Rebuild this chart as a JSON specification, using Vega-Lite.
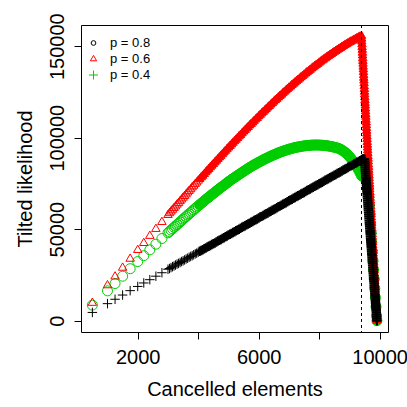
{
  "$schema": "https://vega.github.io/schema/vega-lite/v6.json",
  "width": 307,
  "height": 307,
  "autosize": {"type": "none"},
  "padding": {"left": 81, "top": 25, "right": 19, "bottom": 75},
  "background": "#ffffff",
  "config": {
    "view": {"stroke": "#000000", "strokeWidth": 1},
    "font": "Liberation Sans",
    "axis": {"grid": false, "domain": false, "tickColor": "#000000", "tickSize": 7, "labelColor": "#000000", "titleColor": "#000000", "labelFont": "Liberation Sans", "titleFont": "Liberation Sans", "labelFontSize": 20, "titleFontSize": 20, "titleFontWeight": "normal"}
  },
  "datasets": {
    "curves": [
      {"p":"p = 0.4","x":500,"y":8500},{"p":"p = 0.4","x":1000,"y":16300},{"p":"p = 0.4","x":1250,"y":20300},{"p":"p = 0.4","x":1500,"y":24300},{"p":"p = 0.4","x":1750,"y":28400},{"p":"p = 0.4","x":2000,"y":32300},{"p":"p = 0.4","x":2200,"y":35500},{"p":"p = 0.4","x":2400,"y":38700},{"p":"p = 0.4","x":2600,"y":41800},{"p":"p = 0.4","x":2800,"y":44900},{"p":"p = 0.4","x":3000,"y":48000},
      {"p":"p = 0.4","x":3050,"y":48700},{"p":"p = 0.4","x":3100,"y":49500},{"p":"p = 0.4","x":3150,"y":50200},{"p":"p = 0.4","x":3200,"y":51000},{"p":"p = 0.4","x":3250,"y":51700},{"p":"p = 0.4","x":3300,"y":52500},{"p":"p = 0.4","x":3350,"y":53200},{"p":"p = 0.4","x":3400,"y":54000},{"p":"p = 0.4","x":3450,"y":54700},{"p":"p = 0.4","x":3500,"y":55500},
      {"p":"p = 0.4","x":3550,"y":56200},{"p":"p = 0.4","x":3600,"y":56900},{"p":"p = 0.4","x":3650,"y":57700},{"p":"p = 0.4","x":3700,"y":58400},{"p":"p = 0.4","x":3750,"y":59100},{"p":"p = 0.4","x":3800,"y":59800},{"p":"p = 0.4","x":3850,"y":60600},{"p":"p = 0.4","x":3900,"y":61300},{"p":"p = 0.4","x":3950,"y":62000},{"p":"p = 0.4","x":4000,"y":62700},
      {"p":"p = 0.4","x":4050,"y":63400},{"p":"p = 0.4","x":4100,"y":64100},{"p":"p = 0.4","x":4150,"y":64800},{"p":"p = 0.4","x":4200,"y":65500},{"p":"p = 0.4","x":4250,"y":66200},{"p":"p = 0.4","x":4300,"y":66900},{"p":"p = 0.4","x":4350,"y":67500},{"p":"p = 0.4","x":4400,"y":68200},{"p":"p = 0.4","x":4450,"y":68900},{"p":"p = 0.4","x":4500,"y":69500},
      {"p":"p = 0.4","x":4550,"y":70200},{"p":"p = 0.4","x":4600,"y":70800},{"p":"p = 0.4","x":4650,"y":71500},{"p":"p = 0.4","x":4700,"y":72100},{"p":"p = 0.4","x":4750,"y":72800},{"p":"p = 0.4","x":4800,"y":73400},{"p":"p = 0.4","x":4850,"y":74000},{"p":"p = 0.4","x":4900,"y":74600},{"p":"p = 0.4","x":4950,"y":75300},{"p":"p = 0.4","x":5000,"y":75900},
      {"p":"p = 0.4","x":5050,"y":76500},{"p":"p = 0.4","x":5100,"y":77100},{"p":"p = 0.4","x":5150,"y":77700},{"p":"p = 0.4","x":5200,"y":78200},{"p":"p = 0.4","x":5250,"y":78800},{"p":"p = 0.4","x":5300,"y":79400},{"p":"p = 0.4","x":5350,"y":79900},{"p":"p = 0.4","x":5400,"y":80500},{"p":"p = 0.4","x":5450,"y":81000},{"p":"p = 0.4","x":5500,"y":81600},
      {"p":"p = 0.4","x":5550,"y":82100},{"p":"p = 0.4","x":5600,"y":82600},{"p":"p = 0.4","x":5650,"y":83200},{"p":"p = 0.4","x":5700,"y":83700},{"p":"p = 0.4","x":5750,"y":84200},{"p":"p = 0.4","x":5800,"y":84700},{"p":"p = 0.4","x":5850,"y":85200},{"p":"p = 0.4","x":5900,"y":85600},{"p":"p = 0.4","x":5950,"y":86100},{"p":"p = 0.4","x":6000,"y":86600},
      {"p":"p = 0.4","x":6050,"y":87000},{"p":"p = 0.4","x":6100,"y":87400},{"p":"p = 0.4","x":6150,"y":87900},{"p":"p = 0.4","x":6200,"y":88300},{"p":"p = 0.4","x":6250,"y":88700},{"p":"p = 0.4","x":6300,"y":89100},{"p":"p = 0.4","x":6350,"y":89500},{"p":"p = 0.4","x":6400,"y":89900},{"p":"p = 0.4","x":6450,"y":90300},{"p":"p = 0.4","x":6500,"y":90600},
      {"p":"p = 0.4","x":6550,"y":91000},{"p":"p = 0.4","x":6600,"y":91300},{"p":"p = 0.4","x":6650,"y":91700},{"p":"p = 0.4","x":6700,"y":92000},{"p":"p = 0.4","x":6750,"y":92300},{"p":"p = 0.4","x":6800,"y":92600},{"p":"p = 0.4","x":6850,"y":92900},{"p":"p = 0.4","x":6900,"y":93200},{"p":"p = 0.4","x":6950,"y":93400},{"p":"p = 0.4","x":7000,"y":93700},
      {"p":"p = 0.4","x":7050,"y":93900},{"p":"p = 0.4","x":7100,"y":94100},{"p":"p = 0.4","x":7150,"y":94400},{"p":"p = 0.4","x":7200,"y":94600},{"p":"p = 0.4","x":7250,"y":94800},{"p":"p = 0.4","x":7300,"y":94900},{"p":"p = 0.4","x":7350,"y":95100},{"p":"p = 0.4","x":7400,"y":95200},{"p":"p = 0.4","x":7450,"y":95400},{"p":"p = 0.4","x":7500,"y":95500},
      {"p":"p = 0.4","x":7550,"y":95600},{"p":"p = 0.4","x":7600,"y":95700},{"p":"p = 0.4","x":7650,"y":95800},{"p":"p = 0.4","x":7700,"y":95900},{"p":"p = 0.4","x":7750,"y":95900},{"p":"p = 0.4","x":7800,"y":96000},{"p":"p = 0.4","x":7850,"y":96000},{"p":"p = 0.4","x":7900,"y":96000},{"p":"p = 0.4","x":7950,"y":96000},{"p":"p = 0.4","x":8000,"y":96000},
      {"p":"p = 0.4","x":8050,"y":95900},{"p":"p = 0.4","x":8100,"y":95900},{"p":"p = 0.4","x":8150,"y":95800},{"p":"p = 0.4","x":8200,"y":95700},{"p":"p = 0.4","x":8250,"y":95600},{"p":"p = 0.4","x":8300,"y":95500},{"p":"p = 0.4","x":8350,"y":95300},{"p":"p = 0.4","x":8400,"y":95200},{"p":"p = 0.4","x":8450,"y":95000},{"p":"p = 0.4","x":8500,"y":94800},
      {"p":"p = 0.4","x":8550,"y":94600},{"p":"p = 0.4","x":8600,"y":94400},{"p":"p = 0.4","x":8650,"y":94100},{"p":"p = 0.4","x":8700,"y":93700},{"p":"p = 0.4","x":8750,"y":93300},{"p":"p = 0.4","x":8800,"y":92700},{"p":"p = 0.4","x":8850,"y":92100},{"p":"p = 0.4","x":8900,"y":91400},{"p":"p = 0.4","x":8950,"y":90600},{"p":"p = 0.4","x":9000,"y":89700},
      {"p":"p = 0.4","x":9050,"y":88700},{"p":"p = 0.4","x":9100,"y":87600},{"p":"p = 0.4","x":9150,"y":86400},{"p":"p = 0.4","x":9200,"y":85200},{"p":"p = 0.4","x":9250,"y":83800},{"p":"p = 0.4","x":9300,"y":82400},{"p":"p = 0.4","x":9350,"y":80800},{"p":"p = 0.4","x":9400,"y":79200},{"p":"p = 0.4","x":9450,"y":78700},{"p":"p = 0.4","x":9500,"y":78400},
      {"p":"p = 0.4","x":9550,"y":78200},{"p":"p = 0.4","x":9600,"y":78100},{"p":"p = 0.4","x":9620,"y":73100},{"p":"p = 0.4","x":9640,"y":68100},{"p":"p = 0.4","x":9660,"y":63100},{"p":"p = 0.4","x":9680,"y":58000},{"p":"p = 0.4","x":9700,"y":53000},{"p":"p = 0.4","x":9720,"y":47900},{"p":"p = 0.4","x":9740,"y":42900},{"p":"p = 0.4","x":9760,"y":37800},
      {"p":"p = 0.4","x":9780,"y":32800},{"p":"p = 0.4","x":9800,"y":27700},{"p":"p = 0.4","x":9820,"y":22700},{"p":"p = 0.4","x":9840,"y":17700},{"p":"p = 0.4","x":9860,"y":12600},{"p":"p = 0.4","x":9880,"y":7600},{"p":"p = 0.4","x":9900,"y":2500},{"p":"p = 0.4","x":9910,"y":0},

      {"p":"p = 0.6","x":500,"y":9700},{"p":"p = 0.6","x":1000,"y":19300},{"p":"p = 0.6","x":1250,"y":24100},{"p":"p = 0.6","x":1500,"y":28900},{"p":"p = 0.6","x":1750,"y":33800},{"p":"p = 0.6","x":2000,"y":38600},{"p":"p = 0.6","x":2200,"y":42400},{"p":"p = 0.6","x":2400,"y":46300},{"p":"p = 0.6","x":2600,"y":50100},{"p":"p = 0.6","x":2800,"y":53900},{"p":"p = 0.6","x":3000,"y":57700},
      {"p":"p = 0.6","x":3050,"y":58700},{"p":"p = 0.6","x":3100,"y":59600},{"p":"p = 0.6","x":3150,"y":60600},{"p":"p = 0.6","x":3200,"y":61500},{"p":"p = 0.6","x":3250,"y":62400},{"p":"p = 0.6","x":3300,"y":63400},{"p":"p = 0.6","x":3350,"y":64300},{"p":"p = 0.6","x":3400,"y":65300},{"p":"p = 0.6","x":3450,"y":66200},{"p":"p = 0.6","x":3500,"y":67200},
      {"p":"p = 0.6","x":3550,"y":68100},{"p":"p = 0.6","x":3600,"y":69000},{"p":"p = 0.6","x":3650,"y":70000},{"p":"p = 0.6","x":3700,"y":70900},{"p":"p = 0.6","x":3750,"y":71800},{"p":"p = 0.6","x":3800,"y":72800},{"p":"p = 0.6","x":3850,"y":73700},{"p":"p = 0.6","x":3900,"y":74600},{"p":"p = 0.6","x":3950,"y":75500},{"p":"p = 0.6","x":4000,"y":76500},
      {"p":"p = 0.6","x":4050,"y":77400},{"p":"p = 0.6","x":4100,"y":78300},{"p":"p = 0.6","x":4150,"y":79200},{"p":"p = 0.6","x":4200,"y":80100},{"p":"p = 0.6","x":4250,"y":81100},{"p":"p = 0.6","x":4300,"y":82000},{"p":"p = 0.6","x":4350,"y":82900},{"p":"p = 0.6","x":4400,"y":83800},{"p":"p = 0.6","x":4450,"y":84700},{"p":"p = 0.6","x":4500,"y":85600},
      {"p":"p = 0.6","x":4550,"y":86500},{"p":"p = 0.6","x":4600,"y":87400},{"p":"p = 0.6","x":4650,"y":88300},{"p":"p = 0.6","x":4700,"y":89200},{"p":"p = 0.6","x":4750,"y":90100},{"p":"p = 0.6","x":4800,"y":91000},{"p":"p = 0.6","x":4850,"y":91900},{"p":"p = 0.6","x":4900,"y":92800},{"p":"p = 0.6","x":4950,"y":93700},{"p":"p = 0.6","x":5000,"y":94600},
      {"p":"p = 0.6","x":5050,"y":95400},{"p":"p = 0.6","x":5100,"y":96300},{"p":"p = 0.6","x":5150,"y":97200},{"p":"p = 0.6","x":5200,"y":98100},{"p":"p = 0.6","x":5250,"y":98900},{"p":"p = 0.6","x":5300,"y":99800},{"p":"p = 0.6","x":5350,"y":100700},{"p":"p = 0.6","x":5400,"y":101500},{"p":"p = 0.6","x":5450,"y":102400},{"p":"p = 0.6","x":5500,"y":103300},
      {"p":"p = 0.6","x":5550,"y":104100},{"p":"p = 0.6","x":5600,"y":105000},{"p":"p = 0.6","x":5650,"y":105800},{"p":"p = 0.6","x":5700,"y":106700},{"p":"p = 0.6","x":5750,"y":107500},{"p":"p = 0.6","x":5800,"y":108300},{"p":"p = 0.6","x":5850,"y":109200},{"p":"p = 0.6","x":5900,"y":110000},{"p":"p = 0.6","x":5950,"y":110800},{"p":"p = 0.6","x":6000,"y":111700},
      {"p":"p = 0.6","x":6050,"y":112500},{"p":"p = 0.6","x":6100,"y":113300},{"p":"p = 0.6","x":6150,"y":114100},{"p":"p = 0.6","x":6200,"y":114900},{"p":"p = 0.6","x":6250,"y":115700},{"p":"p = 0.6","x":6300,"y":116500},{"p":"p = 0.6","x":6350,"y":117300},{"p":"p = 0.6","x":6400,"y":118100},{"p":"p = 0.6","x":6450,"y":118900},{"p":"p = 0.6","x":6500,"y":119700},
      {"p":"p = 0.6","x":6550,"y":120500},{"p":"p = 0.6","x":6600,"y":121200},{"p":"p = 0.6","x":6650,"y":122000},{"p":"p = 0.6","x":6700,"y":122800},{"p":"p = 0.6","x":6750,"y":123500},{"p":"p = 0.6","x":6800,"y":124300},{"p":"p = 0.6","x":6850,"y":125100},{"p":"p = 0.6","x":6900,"y":125800},{"p":"p = 0.6","x":6950,"y":126600},{"p":"p = 0.6","x":7000,"y":127300},
      {"p":"p = 0.6","x":7050,"y":128000},{"p":"p = 0.6","x":7100,"y":128800},{"p":"p = 0.6","x":7150,"y":129500},{"p":"p = 0.6","x":7200,"y":130200},{"p":"p = 0.6","x":7250,"y":130900},{"p":"p = 0.6","x":7300,"y":131600},{"p":"p = 0.6","x":7350,"y":132300},{"p":"p = 0.6","x":7400,"y":133000},{"p":"p = 0.6","x":7450,"y":133700},{"p":"p = 0.6","x":7500,"y":134400},
      {"p":"p = 0.6","x":7550,"y":135100},{"p":"p = 0.6","x":7600,"y":135800},{"p":"p = 0.6","x":7650,"y":136400},{"p":"p = 0.6","x":7700,"y":137100},{"p":"p = 0.6","x":7750,"y":137800},{"p":"p = 0.6","x":7800,"y":138400},{"p":"p = 0.6","x":7850,"y":139100},{"p":"p = 0.6","x":7900,"y":139700},{"p":"p = 0.6","x":7950,"y":140300},{"p":"p = 0.6","x":8000,"y":141000},
      {"p":"p = 0.6","x":8050,"y":141600},{"p":"p = 0.6","x":8100,"y":142200},{"p":"p = 0.6","x":8150,"y":142800},{"p":"p = 0.6","x":8200,"y":143400},{"p":"p = 0.6","x":8250,"y":144000},{"p":"p = 0.6","x":8300,"y":144600},{"p":"p = 0.6","x":8350,"y":145200},{"p":"p = 0.6","x":8400,"y":145700},{"p":"p = 0.6","x":8450,"y":146300},{"p":"p = 0.6","x":8500,"y":146900},
      {"p":"p = 0.6","x":8550,"y":147400},{"p":"p = 0.6","x":8600,"y":148000},{"p":"p = 0.6","x":8650,"y":148500},{"p":"p = 0.6","x":8700,"y":149000},{"p":"p = 0.6","x":8750,"y":149600},{"p":"p = 0.6","x":8800,"y":150100},{"p":"p = 0.6","x":8850,"y":150600},{"p":"p = 0.6","x":8900,"y":151100},{"p":"p = 0.6","x":8950,"y":151600},{"p":"p = 0.6","x":9000,"y":152100},
      {"p":"p = 0.6","x":9050,"y":152500},{"p":"p = 0.6","x":9100,"y":153000},{"p":"p = 0.6","x":9150,"y":153500},{"p":"p = 0.6","x":9200,"y":153900},{"p":"p = 0.6","x":9250,"y":154400},{"p":"p = 0.6","x":9300,"y":154800},{"p":"p = 0.6","x":9350,"y":155200},{"p":"p = 0.6","x":9400,"y":155600},
      {"p":"p = 0.6","x":9405,"y":154100},{"p":"p = 0.6","x":9410,"y":152500},{"p":"p = 0.6","x":9415,"y":151000},{"p":"p = 0.6","x":9420,"y":149500},{"p":"p = 0.6","x":9425,"y":148000},{"p":"p = 0.6","x":9430,"y":146400},{"p":"p = 0.6","x":9435,"y":144900},{"p":"p = 0.6","x":9440,"y":143400},{"p":"p = 0.6","x":9445,"y":141900},{"p":"p = 0.6","x":9450,"y":140400},
      {"p":"p = 0.6","x":9455,"y":138800},{"p":"p = 0.6","x":9460,"y":137300},{"p":"p = 0.6","x":9465,"y":135800},{"p":"p = 0.6","x":9470,"y":134200},{"p":"p = 0.6","x":9475,"y":132700},{"p":"p = 0.6","x":9480,"y":131200},{"p":"p = 0.6","x":9485,"y":129700},{"p":"p = 0.6","x":9490,"y":128100},{"p":"p = 0.6","x":9495,"y":126600},{"p":"p = 0.6","x":9500,"y":125100},
      {"p":"p = 0.6","x":9505,"y":123600},{"p":"p = 0.6","x":9510,"y":122000},{"p":"p = 0.6","x":9515,"y":120500},{"p":"p = 0.6","x":9520,"y":119000},{"p":"p = 0.6","x":9525,"y":117500},{"p":"p = 0.6","x":9530,"y":115900},{"p":"p = 0.6","x":9535,"y":114400},{"p":"p = 0.6","x":9540,"y":112900},{"p":"p = 0.6","x":9545,"y":111400},{"p":"p = 0.6","x":9550,"y":109800},
      {"p":"p = 0.6","x":9555,"y":108300},{"p":"p = 0.6","x":9560,"y":106800},{"p":"p = 0.6","x":9565,"y":105300},{"p":"p = 0.6","x":9570,"y":103700},{"p":"p = 0.6","x":9575,"y":102200},{"p":"p = 0.6","x":9580,"y":100700},{"p":"p = 0.6","x":9585,"y":99200},{"p":"p = 0.6","x":9590,"y":97600},{"p":"p = 0.6","x":9595,"y":96100},{"p":"p = 0.6","x":9600,"y":94600},
      {"p":"p = 0.6","x":9605,"y":93100},{"p":"p = 0.6","x":9610,"y":91500},{"p":"p = 0.6","x":9615,"y":90000},{"p":"p = 0.6","x":9620,"y":88500},{"p":"p = 0.6","x":9625,"y":87000},{"p":"p = 0.6","x":9630,"y":85400},{"p":"p = 0.6","x":9635,"y":83900},{"p":"p = 0.6","x":9640,"y":82400},{"p":"p = 0.6","x":9645,"y":80900},{"p":"p = 0.6","x":9650,"y":79300},
      {"p":"p = 0.6","x":9655,"y":77800},{"p":"p = 0.6","x":9660,"y":76300},{"p":"p = 0.6","x":9665,"y":74800},{"p":"p = 0.6","x":9670,"y":73200},{"p":"p = 0.6","x":9675,"y":71700},{"p":"p = 0.6","x":9680,"y":70200},{"p":"p = 0.6","x":9685,"y":68600},{"p":"p = 0.6","x":9690,"y":67100},{"p":"p = 0.6","x":9695,"y":65600},{"p":"p = 0.6","x":9700,"y":64100},
      {"p":"p = 0.6","x":9705,"y":62500},{"p":"p = 0.6","x":9710,"y":61000},{"p":"p = 0.6","x":9715,"y":59500},{"p":"p = 0.6","x":9720,"y":58000},{"p":"p = 0.6","x":9725,"y":56400},{"p":"p = 0.6","x":9730,"y":54900},{"p":"p = 0.6","x":9735,"y":53400},{"p":"p = 0.6","x":9740,"y":51900},{"p":"p = 0.6","x":9745,"y":50300},{"p":"p = 0.6","x":9750,"y":48800},
      {"p":"p = 0.6","x":9755,"y":47300},{"p":"p = 0.6","x":9760,"y":45800},{"p":"p = 0.6","x":9765,"y":44200},{"p":"p = 0.6","x":9770,"y":42700},{"p":"p = 0.6","x":9775,"y":41200},{"p":"p = 0.6","x":9780,"y":39700},{"p":"p = 0.6","x":9785,"y":38100},{"p":"p = 0.6","x":9790,"y":36600},{"p":"p = 0.6","x":9795,"y":35100},{"p":"p = 0.6","x":9800,"y":33600},
      {"p":"p = 0.6","x":9805,"y":32000},{"p":"p = 0.6","x":9810,"y":30500},{"p":"p = 0.6","x":9815,"y":29000},{"p":"p = 0.6","x":9820,"y":27500},{"p":"p = 0.6","x":9825,"y":25900},{"p":"p = 0.6","x":9830,"y":24400},{"p":"p = 0.6","x":9835,"y":22900},{"p":"p = 0.6","x":9840,"y":21400},{"p":"p = 0.6","x":9845,"y":19800},{"p":"p = 0.6","x":9850,"y":18300},
      {"p":"p = 0.6","x":9855,"y":16800},{"p":"p = 0.6","x":9860,"y":15300},{"p":"p = 0.6","x":9865,"y":13700},{"p":"p = 0.6","x":9870,"y":12200},{"p":"p = 0.6","x":9875,"y":10700},{"p":"p = 0.6","x":9880,"y":9200},{"p":"p = 0.6","x":9885,"y":7600},{"p":"p = 0.6","x":9890,"y":6100},{"p":"p = 0.6","x":9895,"y":4600},{"p":"p = 0.6","x":9900,"y":3100},{"p":"p = 0.6","x":9905,"y":1500},{"p":"p = 0.6","x":9910,"y":0},

      {"p":"p = 0.8","x":500,"y":4500},{"p":"p = 0.8","x":1000,"y":9300},{"p":"p = 0.8","x":1250,"y":11700},{"p":"p = 0.8","x":1500,"y":14000},{"p":"p = 0.8","x":1750,"y":16400},{"p":"p = 0.8","x":2000,"y":18700},{"p":"p = 0.8","x":2200,"y":20600},{"p":"p = 0.8","x":2400,"y":22400},{"p":"p = 0.8","x":2600,"y":24300},{"p":"p = 0.8","x":2800,"y":26200},{"p":"p = 0.8","x":3000,"y":28100},
      {"p":"p = 0.8","x":3050,"y":28500},{"p":"p = 0.8","x":3100,"y":29000},{"p":"p = 0.8","x":3150,"y":29500},{"p":"p = 0.8","x":3200,"y":29900},{"p":"p = 0.8","x":3250,"y":30400},{"p":"p = 0.8","x":3300,"y":30900},{"p":"p = 0.8","x":3350,"y":31300},{"p":"p = 0.8","x":3400,"y":31800},{"p":"p = 0.8","x":3450,"y":32300},{"p":"p = 0.8","x":3500,"y":32700},
      {"p":"p = 0.8","x":3550,"y":33200},{"p":"p = 0.8","x":3600,"y":33700},{"p":"p = 0.8","x":3650,"y":34100},{"p":"p = 0.8","x":3700,"y":34600},{"p":"p = 0.8","x":3750,"y":35100},{"p":"p = 0.8","x":3800,"y":35500},{"p":"p = 0.8","x":3850,"y":36000},{"p":"p = 0.8","x":3900,"y":36500},{"p":"p = 0.8","x":3950,"y":36900},{"p":"p = 0.8","x":4000,"y":37400},
      {"p":"p = 0.8","x":4050,"y":37900},{"p":"p = 0.8","x":4100,"y":38300},{"p":"p = 0.8","x":4150,"y":38800},{"p":"p = 0.8","x":4200,"y":39300},{"p":"p = 0.8","x":4250,"y":39700},{"p":"p = 0.8","x":4300,"y":40200},{"p":"p = 0.8","x":4350,"y":40700},{"p":"p = 0.8","x":4400,"y":41100},{"p":"p = 0.8","x":4450,"y":41600},{"p":"p = 0.8","x":4500,"y":42100},
      {"p":"p = 0.8","x":4550,"y":42500},{"p":"p = 0.8","x":4600,"y":43000},{"p":"p = 0.8","x":4650,"y":43500},{"p":"p = 0.8","x":4700,"y":43900},{"p":"p = 0.8","x":4750,"y":44400},{"p":"p = 0.8","x":4800,"y":44900},{"p":"p = 0.8","x":4850,"y":45300},{"p":"p = 0.8","x":4900,"y":45800},{"p":"p = 0.8","x":4950,"y":46300},{"p":"p = 0.8","x":5000,"y":46800},
      {"p":"p = 0.8","x":5050,"y":47200},{"p":"p = 0.8","x":5100,"y":47700},{"p":"p = 0.8","x":5150,"y":48200},{"p":"p = 0.8","x":5200,"y":48600},{"p":"p = 0.8","x":5250,"y":49100},{"p":"p = 0.8","x":5300,"y":49600},{"p":"p = 0.8","x":5350,"y":50000},{"p":"p = 0.8","x":5400,"y":50500},{"p":"p = 0.8","x":5450,"y":51000},{"p":"p = 0.8","x":5500,"y":51400},
      {"p":"p = 0.8","x":5550,"y":51900},{"p":"p = 0.8","x":5600,"y":52400},{"p":"p = 0.8","x":5650,"y":52800},{"p":"p = 0.8","x":5700,"y":53300},{"p":"p = 0.8","x":5750,"y":53800},{"p":"p = 0.8","x":5800,"y":54200},{"p":"p = 0.8","x":5850,"y":54700},{"p":"p = 0.8","x":5900,"y":55200},{"p":"p = 0.8","x":5950,"y":55600},{"p":"p = 0.8","x":6000,"y":56100},
      {"p":"p = 0.8","x":6050,"y":56600},{"p":"p = 0.8","x":6100,"y":57000},{"p":"p = 0.8","x":6150,"y":57500},{"p":"p = 0.8","x":6200,"y":58000},{"p":"p = 0.8","x":6250,"y":58400},{"p":"p = 0.8","x":6300,"y":58900},{"p":"p = 0.8","x":6350,"y":59400},{"p":"p = 0.8","x":6400,"y":59800},{"p":"p = 0.8","x":6450,"y":60300},{"p":"p = 0.8","x":6500,"y":60800},
      {"p":"p = 0.8","x":6550,"y":61200},{"p":"p = 0.8","x":6600,"y":61700},{"p":"p = 0.8","x":6650,"y":62200},{"p":"p = 0.8","x":6700,"y":62600},{"p":"p = 0.8","x":6750,"y":63100},{"p":"p = 0.8","x":6800,"y":63600},{"p":"p = 0.8","x":6850,"y":64000},{"p":"p = 0.8","x":6900,"y":64500},{"p":"p = 0.8","x":6950,"y":65000},{"p":"p = 0.8","x":7000,"y":65500},
      {"p":"p = 0.8","x":7050,"y":65900},{"p":"p = 0.8","x":7100,"y":66400},{"p":"p = 0.8","x":7150,"y":66900},{"p":"p = 0.8","x":7200,"y":67300},{"p":"p = 0.8","x":7250,"y":67800},{"p":"p = 0.8","x":7300,"y":68300},{"p":"p = 0.8","x":7350,"y":68700},{"p":"p = 0.8","x":7400,"y":69200},{"p":"p = 0.8","x":7450,"y":69700},{"p":"p = 0.8","x":7500,"y":70100},
      {"p":"p = 0.8","x":7550,"y":70600},{"p":"p = 0.8","x":7600,"y":71100},{"p":"p = 0.8","x":7650,"y":71500},{"p":"p = 0.8","x":7700,"y":72000},{"p":"p = 0.8","x":7750,"y":72500},{"p":"p = 0.8","x":7800,"y":72900},{"p":"p = 0.8","x":7850,"y":73400},{"p":"p = 0.8","x":7900,"y":73900},{"p":"p = 0.8","x":7950,"y":74300},{"p":"p = 0.8","x":8000,"y":74800},
      {"p":"p = 0.8","x":8050,"y":75300},{"p":"p = 0.8","x":8100,"y":75700},{"p":"p = 0.8","x":8150,"y":76200},{"p":"p = 0.8","x":8200,"y":76700},{"p":"p = 0.8","x":8250,"y":77100},{"p":"p = 0.8","x":8300,"y":77600},{"p":"p = 0.8","x":8350,"y":78100},{"p":"p = 0.8","x":8400,"y":78500},{"p":"p = 0.8","x":8450,"y":79000},{"p":"p = 0.8","x":8500,"y":79500},
      {"p":"p = 0.8","x":8550,"y":79900},{"p":"p = 0.8","x":8600,"y":80400},{"p":"p = 0.8","x":8650,"y":80900},{"p":"p = 0.8","x":8700,"y":81300},{"p":"p = 0.8","x":8750,"y":81800},{"p":"p = 0.8","x":8800,"y":82300},{"p":"p = 0.8","x":8850,"y":82700},{"p":"p = 0.8","x":8900,"y":83200},{"p":"p = 0.8","x":8950,"y":83700},{"p":"p = 0.8","x":9000,"y":84200},
      {"p":"p = 0.8","x":9050,"y":84600},{"p":"p = 0.8","x":9100,"y":85100},{"p":"p = 0.8","x":9150,"y":85600},{"p":"p = 0.8","x":9200,"y":86000},{"p":"p = 0.8","x":9250,"y":86500},{"p":"p = 0.8","x":9300,"y":87000},{"p":"p = 0.8","x":9350,"y":87400},{"p":"p = 0.8","x":9400,"y":87900},{"p":"p = 0.8","x":9425,"y":88100},{"p":"p = 0.8","x":9450,"y":88300},{"p":"p = 0.8","x":9475,"y":88300},{"p":"p = 0.8","x":9500,"y":88100},
      {"p":"p = 0.8","x":9505,"y":87000},{"p":"p = 0.8","x":9510,"y":86000},{"p":"p = 0.8","x":9515,"y":84900},{"p":"p = 0.8","x":9520,"y":83800},{"p":"p = 0.8","x":9525,"y":82700},{"p":"p = 0.8","x":9530,"y":81700},{"p":"p = 0.8","x":9535,"y":80600},{"p":"p = 0.8","x":9540,"y":79500},{"p":"p = 0.8","x":9545,"y":78400},{"p":"p = 0.8","x":9550,"y":77400},
      {"p":"p = 0.8","x":9555,"y":76300},{"p":"p = 0.8","x":9560,"y":75200},{"p":"p = 0.8","x":9565,"y":74100},{"p":"p = 0.8","x":9570,"y":73100},{"p":"p = 0.8","x":9575,"y":72000},{"p":"p = 0.8","x":9580,"y":70900},{"p":"p = 0.8","x":9585,"y":69800},{"p":"p = 0.8","x":9590,"y":68800},{"p":"p = 0.8","x":9595,"y":67700},{"p":"p = 0.8","x":9600,"y":66600},
      {"p":"p = 0.8","x":9605,"y":65500},{"p":"p = 0.8","x":9610,"y":64500},{"p":"p = 0.8","x":9615,"y":63400},{"p":"p = 0.8","x":9620,"y":62300},{"p":"p = 0.8","x":9625,"y":61200},{"p":"p = 0.8","x":9630,"y":60200},{"p":"p = 0.8","x":9635,"y":59100},{"p":"p = 0.8","x":9640,"y":58000},{"p":"p = 0.8","x":9645,"y":56900},{"p":"p = 0.8","x":9650,"y":55900},
      {"p":"p = 0.8","x":9655,"y":54800},{"p":"p = 0.8","x":9660,"y":53700},{"p":"p = 0.8","x":9665,"y":52700},{"p":"p = 0.8","x":9670,"y":51600},{"p":"p = 0.8","x":9675,"y":50500},{"p":"p = 0.8","x":9680,"y":49400},{"p":"p = 0.8","x":9685,"y":48400},{"p":"p = 0.8","x":9690,"y":47300},{"p":"p = 0.8","x":9695,"y":46200},{"p":"p = 0.8","x":9700,"y":45100},
      {"p":"p = 0.8","x":9705,"y":44100},{"p":"p = 0.8","x":9710,"y":43000},{"p":"p = 0.8","x":9715,"y":41900},{"p":"p = 0.8","x":9720,"y":40800},{"p":"p = 0.8","x":9725,"y":39800},{"p":"p = 0.8","x":9730,"y":38700},{"p":"p = 0.8","x":9735,"y":37600},{"p":"p = 0.8","x":9740,"y":36500},{"p":"p = 0.8","x":9745,"y":35500},{"p":"p = 0.8","x":9750,"y":34400},
      {"p":"p = 0.8","x":9755,"y":33300},{"p":"p = 0.8","x":9760,"y":32200},{"p":"p = 0.8","x":9765,"y":31200},{"p":"p = 0.8","x":9770,"y":30100},{"p":"p = 0.8","x":9775,"y":29000},{"p":"p = 0.8","x":9780,"y":27900},{"p":"p = 0.8","x":9785,"y":26900},{"p":"p = 0.8","x":9790,"y":25800},{"p":"p = 0.8","x":9795,"y":24700},{"p":"p = 0.8","x":9800,"y":23600},
      {"p":"p = 0.8","x":9805,"y":22600},{"p":"p = 0.8","x":9810,"y":21500},{"p":"p = 0.8","x":9815,"y":20400},{"p":"p = 0.8","x":9820,"y":19300},{"p":"p = 0.8","x":9825,"y":18300},{"p":"p = 0.8","x":9830,"y":17200},{"p":"p = 0.8","x":9835,"y":16100},{"p":"p = 0.8","x":9840,"y":15000},{"p":"p = 0.8","x":9845,"y":14000},{"p":"p = 0.8","x":9850,"y":12900},
      {"p":"p = 0.8","x":9855,"y":11800},{"p":"p = 0.8","x":9860,"y":10700},{"p":"p = 0.8","x":9865,"y":9700},{"p":"p = 0.8","x":9870,"y":8600},{"p":"p = 0.8","x":9875,"y":7500},{"p":"p = 0.8","x":9880,"y":6400},{"p":"p = 0.8","x":9885,"y":5400},{"p":"p = 0.8","x":9890,"y":4300},{"p":"p = 0.8","x":9895,"y":3200},{"p":"p = 0.8","x":9900,"y":2100},{"p":"p = 0.8","x":9905,"y":1100},{"p":"p = 0.8","x":9910,"y":0}
    ],
    "cutoff": [{"x": 9400}]
  },
  "resolve": {"scale": {"color": "independent", "shape": "independent", "size": "independent"}},
  "encoding": {
    "x": {
      "field": "x", "type": "quantitative",
      "scale": {"domain": [124, 10276], "nice": false, "zero": false},
      "axis": {
        "values": [2000, 4000, 6000, 8000, 10000], "format": "d",
        "labelExpr": "datum.value == 4000 || datum.value == 8000 ? '' : datum.label",
        "labelBaseline": "alphabetic", "labelPadding": 24, "labelFlush": false, "labelOverlap": false,
        "title": "Cancelled elements", "titleX": 153.5, "titleY": 63, "titleAlign": "center", "titleBaseline": "alphabetic", "titleAngle": 0
      }
    }
  },
  "layer": [
    {
      "data": {"name": "curves"},
      "mark": {"type": "point", "filled": false, "opacity": 1},
      "encoding": {
        "y": {
          "field": "y", "type": "quantitative",
          "scale": {"domain": [-6200, 161600], "nice": false, "zero": false},
          "axis": {
            "values": [0, 50000, 100000, 150000], "format": "d",
            "labelAngle": -90, "labelAlign": "center", "labelBaseline": "alphabetic", "labelPadding": 11, "labelFlush": false, "labelOverlap": false,
            "title": "Tilted likelihood", "titleAngle": -90, "titleAlign": "center", "titleBaseline": "alphabetic", "titleX": -49.6, "titleY": 153.5
          }
        },
        "color": {
          "field": "p", "type": "nominal",
          "scale": {"domain": ["p = 0.8", "p = 0.6", "p = 0.4"], "range": ["#000000", "#ff0000", "#00cd00"]},
          "legend": null
        },
        "fill": {
          "condition": {"test": "datum.x > 4025", "field": "p", "type": "nominal", "scale": {"domain": ["p = 0.8", "p = 0.6", "p = 0.4"], "range": ["#000000", "#ff0000", "#00cd00"]}, "legend": null},
          "value": "transparent"
        },
        "strokeWidth": {
          "condition": {"test": "datum.x > 4025 && datum.p == 'p = 0.8'", "value": 2},
          "value": 1
        },
        "shape": {
          "field": "p", "type": "nominal",
          "scale": {"domain": ["p = 0.8", "p = 0.6", "p = 0.4"], "range": ["M-1,0H1M0,-1V1", "M0,-1L0.866,0.5L-0.866,0.5Z", "circle"]},
          "legend": null
        },
        "size": {
          "field": "p", "type": "nominal",
          "scale": {"domain": ["p = 0.8", "p = 0.6", "p = 0.4"], "range": [90, 100, 42]},
          "legend": null
        }
      }
    },
    {
      "data": {"name": "curves"},
      "transform": [{"filter": "datum.x < 0"}],
      "mark": {"type": "point", "filled": false, "opacity": 1, "strokeWidth": 1},
      "encoding": {
        "color": {
          "field": "p", "type": "nominal",
          "scale": {"domain": ["p = 0.8", "p = 0.6", "p = 0.4"], "range": ["#000000", "#ff0000", "#00cd00"]},
          "legend": {"title": null, "orient": "none", "legendX": 6, "legendY": 10, "padding": 0, "clipHeight": 16, "rowPadding": 0, "labelFont": "Liberation Sans", "labelFontSize": 13, "labelColor": "#000000", "labelOffset": 10, "symbolStrokeWidth": 1}
        },
        "shape": {
          "field": "p", "type": "nominal",
          "scale": {"domain": ["p = 0.8", "p = 0.6", "p = 0.4"], "range": ["circle", "M0,-1L0.866,0.5L-0.866,0.5Z", "M-1,0H1M0,-1V1"]},
          "legend": {"title": null, "orient": "none", "legendX": 6, "legendY": 10, "padding": 0, "clipHeight": 16, "rowPadding": 0, "labelFont": "Liberation Sans", "labelFontSize": 13, "labelColor": "#000000", "labelOffset": 10, "symbolStrokeWidth": 1}
        },
        "size": {
          "field": "p", "type": "nominal",
          "scale": {"domain": ["p = 0.8", "p = 0.6", "p = 0.4"], "range": [22, 80, 60]},
          "legend": {"title": null, "orient": "none", "legendX": 6, "legendY": 10, "padding": 0, "clipHeight": 16, "rowPadding": 0, "labelFont": "Liberation Sans", "labelFontSize": 13, "labelColor": "#000000", "labelOffset": 10, "symbolStrokeWidth": 1}
        }
      }
    },
    {
      "data": {"name": "cutoff"},
      "mark": {"type": "rule", "color": "#000000", "strokeWidth": 1, "strokeDash": [3, 3]},
      "encoding": {}
    }
  ]
}
